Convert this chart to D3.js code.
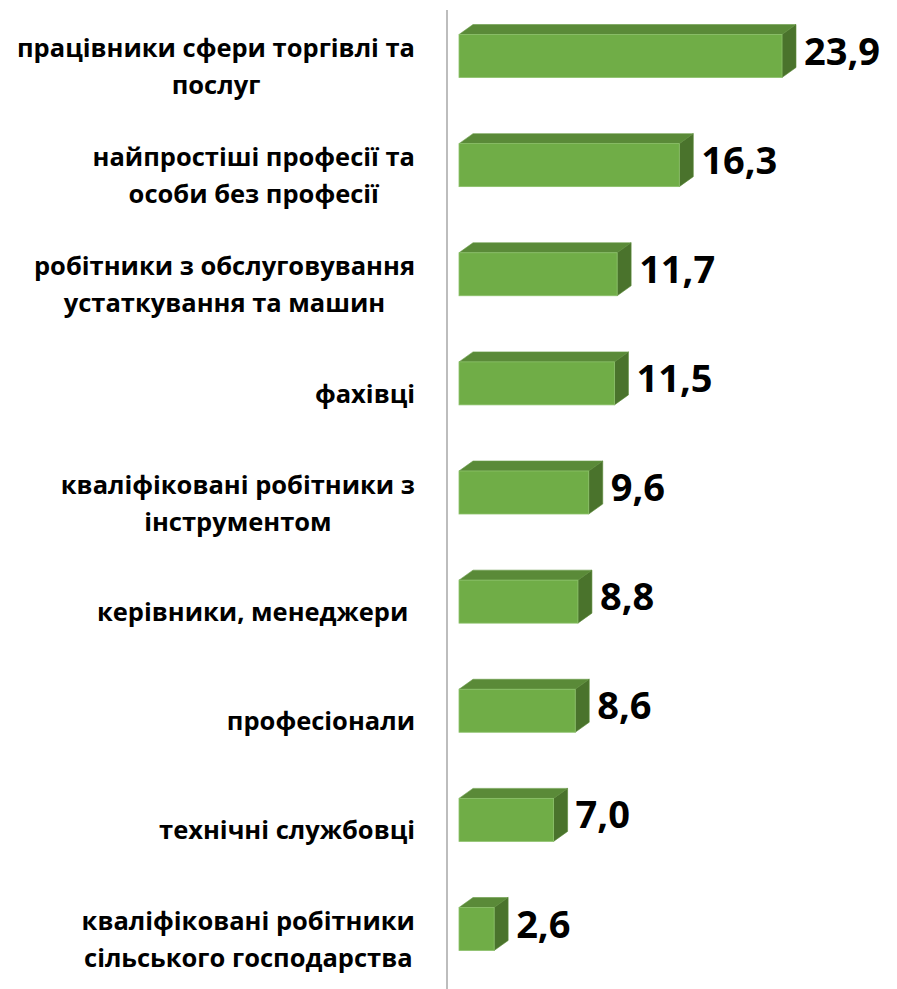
<!DOCTYPE html>
<html>
<head>
<meta charset="utf-8">
<script src="https://cdn.jsdelivr.net/npm/d3@7"></script>
<style>
  body { margin: 0; background: #fff; }
  text { font-family: "Open Sans", sans-serif; font-weight: bold; fill: #000; white-space: pre; }
</style>
</head>
<body>
<div id="chart"></div>
<script>
var categories = [
  "працівники сфери торгівлі та\nпослуг",
  "найпростіші професії та\nособи без професії",
  "робітники з обслуговування\nустаткування та машин",
  "фахівці",
  "кваліфіковані робітники з\nінструментом",
  "керівники, менеджери ",
  "професіонали",
  "технічні службовці",
  "кваліфіковані робітники\nсільського господарства"
];
var values = [23.9, 16.3, 11.7, 11.5, 9.6, 8.8, 8.6, 7.0, 2.6];
var valueLabels = ["23,9", "16,3", "11,7", "11,5", "9,6", "8,8", "8,6", "7,0", "2,6"];

var W = 897, H = 989;
var BAR_H = 43, DX = 14, DY = 10;
var LABEL_RIGHT = 415, LINE_H = 37;

var svg = d3.select("#chart").append("svg")
  .attr("width", W)
  .attr("height", H)

var x = d3.scaleLinear().domain([0, 24]).range([459, 459 + 24 * 13.515]);
var y = d3.scalePoint().domain(d3.range(categories.length)).range([56, 929]);

// axis line
svg.append("line")
  .attr("x1", 447).attr("x2", 447)
  .attr("y1", 10).attr("y2", H)
  .style("stroke", "#bdbdbd")
  .style("stroke-width", 2)

var bars = svg.append("g").selectAll("g")
  .data(values).enter()
  .append("g")

// top face
bars.append("path")
  .attr("d", function (d, i) {
    var x0 = x(0), x1 = x(d), t = y(i) - BAR_H / 2;
    return "M" + x0 + "," + t + " L" + (x0 + DX) + "," + (t - DY) +
      " L" + (x1 + DX) + "," + (t - DY) + " L" + x1 + "," + t + " Z";
  })
  .style("fill", "#5a8a38")
  .style("stroke", "#6a9c48")
  .style("stroke-width", 0.6)

// side face
bars.append("path")
  .attr("d", function (d, i) {
    var x1 = x(d), t = y(i) - BAR_H / 2;
    return "M" + x1 + "," + t + " L" + (x1 + DX) + "," + (t - DY) +
      " L" + (x1 + DX) + "," + (t - DY + BAR_H) + " L" + x1 + "," + (t + BAR_H) + " Z";
  })
  .style("fill", "#4a732c")
  .style("stroke", "#5a8a38")
  .style("stroke-width", 0.6)

// front face
bars.append("rect")
  .attr("x", x(0))
  .attr("y", (d, i) => y(i) - BAR_H / 2)
  .attr("width", d => x(d) - x(0))
  .attr("height", BAR_H)
  .style("fill", "#70ad47")
  .style("stroke", "#8cc06a")
  .style("stroke-width", 0.8)

// value labels
bars.append("text")
  .text((d, i) => valueLabels[i])
  .attr("x", d => x(d) + DX + 8)
  .attr("y", (d, i) => y(i) + 8.5)
  .style("font-size", "38px")

// category labels, lines centred, block right-aligned
categories.forEach(function (cat, i) {
  var lines = cat.split("\n");
  var g = svg.append("g");
  var texts = lines.map(function (line, j) {
    return g.append("text")
      .text(line)
      .attr("y", y(i) + 19.5 + (j - (lines.length - 1) / 2) * LINE_H)
      .style("font-size", "25.5px")
      .style("text-anchor", "middle");
  });
  var maxW = d3.max(texts, t => t.node().getComputedTextLength());
  texts.forEach(t => t.attr("x", LABEL_RIGHT - maxW / 2));
});
</script>
</body>
</html>
